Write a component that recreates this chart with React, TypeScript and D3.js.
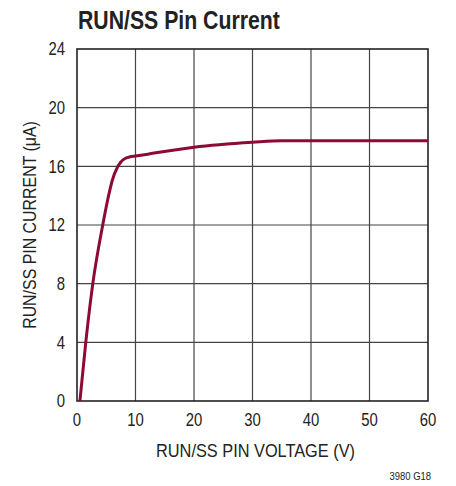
import { scaleLinear, line, curveMonotoneX } from "d3";

const voltage = [0.5, 1.5, 2.7, 4.4, 5.4, 6.0, 7.0, 7.5, 8.3, 9.1, 10, 12.5, 20, 30, 35, 40, 50, 60];
const current = [0, 4, 8, 12, 14, 15, 16, 16.3, 16.55, 16.65, 16.7, 16.86, 17.3, 17.64, 17.75, 17.75, 17.75, 17.75];
const xTicks = [0, 10, 20, 30, 40, 50, 60];
const yTicks = [0, 4, 8, 12, 16, 20, 24];

const width = 456;
const height = 486;
const marginLeft = 77;
const marginRight = 28;
const marginTop = 49;
const marginBottom = 85;

const font = "'Liberation Sans', Arial, Helvetica, sans-serif";

// Liberation Sans squeezed horizontally, close to the condensed face of the original
function Label({ x, y, size, squeeze = 0.86, anchor = "start", rotate = 0, bold = false, dy, children }) {
  return (
    <text
      transform={`translate(${x},${y}) rotate(${rotate}) scale(${squeeze},1)`}
      textAnchor={anchor}
      fontSize={size}
      fontWeight={bold ? "bold" : "normal"}
      dy={dy}
      fill="#222">
      {children}
    </text>
  );
}

export default function App() {
  const x = scaleLinear().domain([0, 60]).range([marginLeft, width - marginRight]);
  const y = scaleLinear().domain([0, 24]).range([height - marginBottom, marginTop]);

  const pts = voltage.map((v, i) => [v, current[i]] as [number, number]);
  const path = line<[number, number]>()
    .x((d) => x(d[0]))
    .y((d) => y(d[1]))
    .curve(curveMonotoneX)(pts);

  return (
    <svg
      width={width}
      height={height}
      style={{ position: "absolute", left: 0, top: 0, background: "white" }}
      fontFamily={font}>
      <Label x={78} y={29} size={25} squeeze={0.85} bold>
        RUN/SS Pin Current
      </Label>

      {xTicks.slice(1, -1).map((t) => (
        <line key={"gx" + t} x1={x(t)} x2={x(t)} y1={y(0)} y2={y(24)} stroke="#444" strokeWidth={1.2} />
      ))}
      {yTicks.slice(1, -1).map((t) => (
        <line key={"gy" + t} x1={x(0)} x2={x(60)} y1={y(t)} y2={y(t)} stroke="#444" strokeWidth={1.2} />
      ))}
      <rect
        x={x(0)}
        y={y(24)}
        width={x(60) - x(0)}
        height={y(0) - y(24)}
        fill="none"
        stroke="#222"
        strokeWidth={1.6}
      />

      <path d={path ?? ""} fill="none" stroke="#8c0a35" strokeWidth={3} strokeLinejoin="round" />

      {xTicks.map((t) => (
        <Label key={"tx" + t} x={x(t)} y={426} size={17.5} squeeze={0.85} anchor="middle">
          {t}
        </Label>
      ))}
      {yTicks.map((t) => (
        <Label key={"ty" + t} x={65} y={y(t)} dy="0.36em" size={17.5} squeeze={0.85} anchor="end">
          {t}
        </Label>
      ))}

      <Label x={(x(0) + x(60)) / 2 + 3} y={457} size={19} anchor="middle">
        RUN/SS PIN VOLTAGE (V)
      </Label>
      <Label x={36} y={(y(0) + y(24)) / 2} size={18.5} rotate={-90} anchor="middle">
        RUN/SS PIN CURRENT (μA)
      </Label>
      <Label x={431} y={480} size={10.5} squeeze={0.9} anchor="end">
        3980 G18
      </Label>
    </svg>
  );
}
